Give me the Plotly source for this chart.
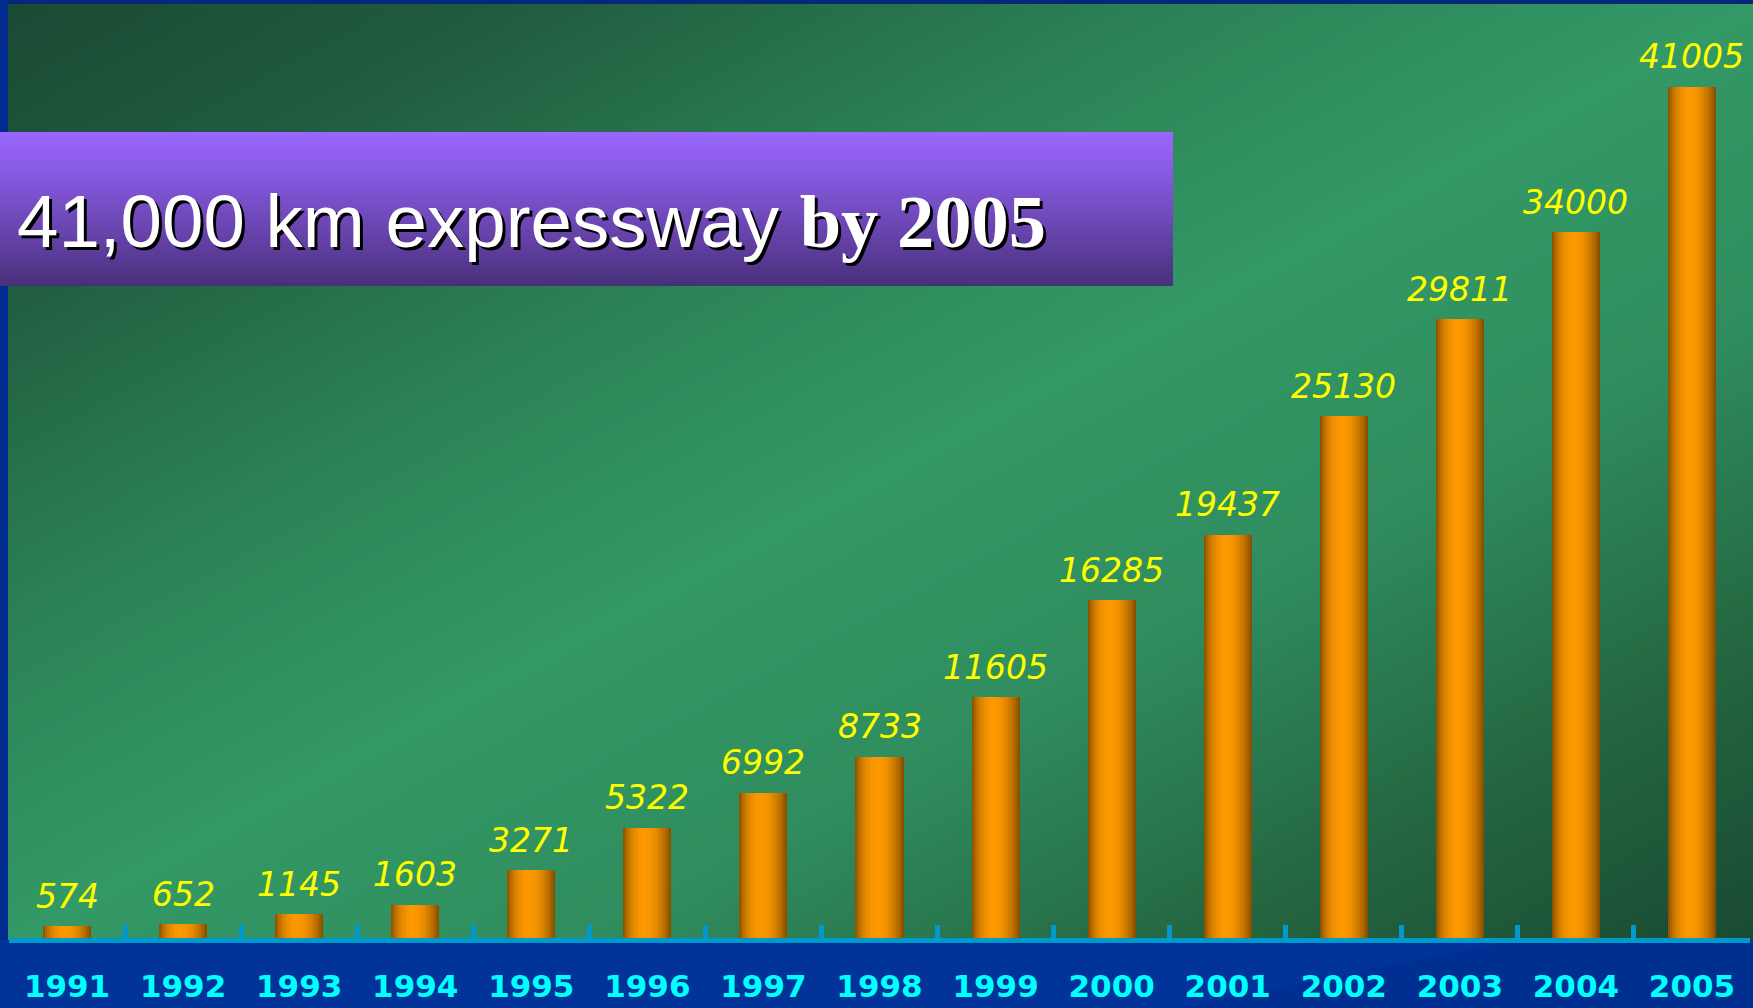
import math
import plotly.graph_objects as go

# ---------------- data ----------------
years = ["1991", "1992", "1993", "1994", "1995", "1996", "1997", "1998",
         "1999", "2000", "2001", "2002", "2003", "2004", "2005"]
km = [574, 652, 1145, 1603, 3271, 5322, 6992, 8733,
      11605, 16285, 19437, 25130, 29811, 34000, 41005]
title_main = "41,000 km expressway "
title_tail = "by 2005"

W, H = 1753, 1008

def px_x(x):
    return x / W

def px_y(y):  # top-based pixel -> paper
    return (H - y) / H

def lerp(c1, c2, t):
    return tuple(int(round(a + (b - a) * t)) for a, b in zip(c1, c2))

def rgb(c):
    return "rgb(%d,%d,%d)" % c

fig = go.Figure()

# ---------------- green diagonal background (heatmap on its own axes) ----------------
n = 21
gx = [i / (n - 1) for i in range(n)]
gy = [j / (n - 1) for j in range(n)]
gz = [[(x + (1 - y)) / 2 for x in gx] for y in gy]
fig.add_trace(go.Heatmap(
    x=gx, y=gy, z=gz, zmin=0, zmax=1, zsmooth="best", showscale=False,
    hoverinfo="skip",
    colorscale=[[0.0, "#1b4a34"], [0.15, "#215c3f"], [0.33, "#2b8155"],
                [0.5, "#339966"], [0.67, "#2f8c5e"], [0.85, "#23643f"],
                [1.0, "#1a4a33"]],
    xaxis="x", yaxis="y"))

# ---------------- cylinder bars (strips with horizontal shading) ----------------
bar_w = 0.414
nstrip = 24
dark = (122, 70, 0)
bright = (252, 152, 0)
expo = math.log(0.5) / math.log(0.45)
step = bar_w / nstrip
for i in range(nstrip):
    t = (i + 0.5) / nstrip
    f = math.sin(math.pi * (t ** expo)) ** 0.75
    col = lerp(dark, bright, f)
    wdt = step * (1.35 if i < nstrip - 1 else 1.0)
    fig.add_trace(go.Bar(
        x=years, y=km, width=wdt, offset=-bar_w / 2 + i * step,
        marker=dict(color=rgb(col), line=dict(width=0)),
        hoverinfo="skip", showlegend=False, xaxis="x2", yaxis="y2"))

annotations = []
for idx, v in enumerate(km):
    annotations.append(dict(
        x=idx, y=v, xref="x2", yref="y2", text=str(v), showarrow=False,
        yanchor="middle", xanchor="center", yshift=30,
        font=dict(family="DejaVu Sans", size=33, color="#ffff00", style="italic")))

# title annotation
annotations.append(dict(
    x=px_x(15), y=px_y(221), xref="paper", yref="paper", xanchor="left", yanchor="middle",
    showarrow=False,
    text=title_main + "<span style=\"font-family:Liberation Serif\"><b>" + title_tail + "</b></span>",
    font=dict(family="Liberation Sans", size=74.5, color="#ffffff", shadow="3px 3px 0px #000000")))

# ---------------- shapes: borders and title band ----------------
shapes = []
shapes.append(dict(type="rect", xref="paper", yref="paper", x0=0, x1=1, y0=px_y(4), y1=1,
                   fillcolor="#05297a", line=dict(width=0), layer="above"))
shapes.append(dict(type="rect", xref="paper", yref="paper", x0=0, x1=px_x(8), y0=px_y(940), y1=1,
                   fillcolor="#012b8e", line=dict(width=0), layer="above"))
# subtle diagonal shading in the bottom band
shapes.append(dict(type="path", xref="paper", yref="paper",
                   path="M %f %f L %f %f L %f %f L %f %f Z" % (
                       px_x(1180), px_y(1008), px_x(1500), px_y(943),
                       px_x(1753), px_y(943), px_x(1753), px_y(1008)),
                   fillcolor="rgba(0,20,90,0.10)", line=dict(width=0), layer="below"))
band_top, band_bot = 132, 286
nb = 50
top_c, bot_c = (154, 102, 255), (72, 47, 122)
hb = (band_bot - band_top) / nb
for k in range(nb):
    t = (k + 0.5) / nb
    c = lerp(top_c, bot_c, t ** 1.1)
    y0 = band_top + k * hb
    y1 = min(band_bot, y0 + hb + 0.8)
    shapes.append(dict(type="rect", xref="paper", yref="paper",
                       x0=0, x1=px_x(1173), y0=px_y(y1), y1=px_y(y0),
                       fillcolor=rgb(c), line=dict(width=0), layer="above"))

fig.update_layout(
    width=W, height=H,
    margin=dict(l=0, r=0, t=0, b=0),
    paper_bgcolor="#013399",
    plot_bgcolor="rgba(0,0,0,0)",
    showlegend=False,
    barmode="overlay",
    bargap=0,
    xaxis=dict(domain=[px_x(8), 1], range=[0, 1], visible=False, fixedrange=True),
    yaxis=dict(domain=[px_y(940), px_y(4)], range=[0, 1], visible=False, fixedrange=True),
    xaxis2=dict(domain=[px_x(9), px_x(1750)], type="category", range=[-0.5, 14.5],
                anchor="y2", showline=True, linecolor="#0099cc", linewidth=5,
                ticks="inside", ticklen=13, tickwidth=5, tickcolor="#0099cc",
                tickson="boundaries", showgrid=False, zeroline=False,
                tickfont=dict(family="DejaVu Sans", size=31, color="#00ffff", weight="bold"),
                ticklabelstandoff=17),
    yaxis2=dict(domain=[px_y(938), px_y(4)], range=[0, 45000], anchor="x2",
                visible=False, showgrid=False, zeroline=False),
    annotations=annotations,
    shapes=shapes,
)

fig.write_html(
    "out.html",
    config={"displayModeBar": False},
    post_script="document.body.style.margin='0';document.body.style.overflow='hidden';",
)
